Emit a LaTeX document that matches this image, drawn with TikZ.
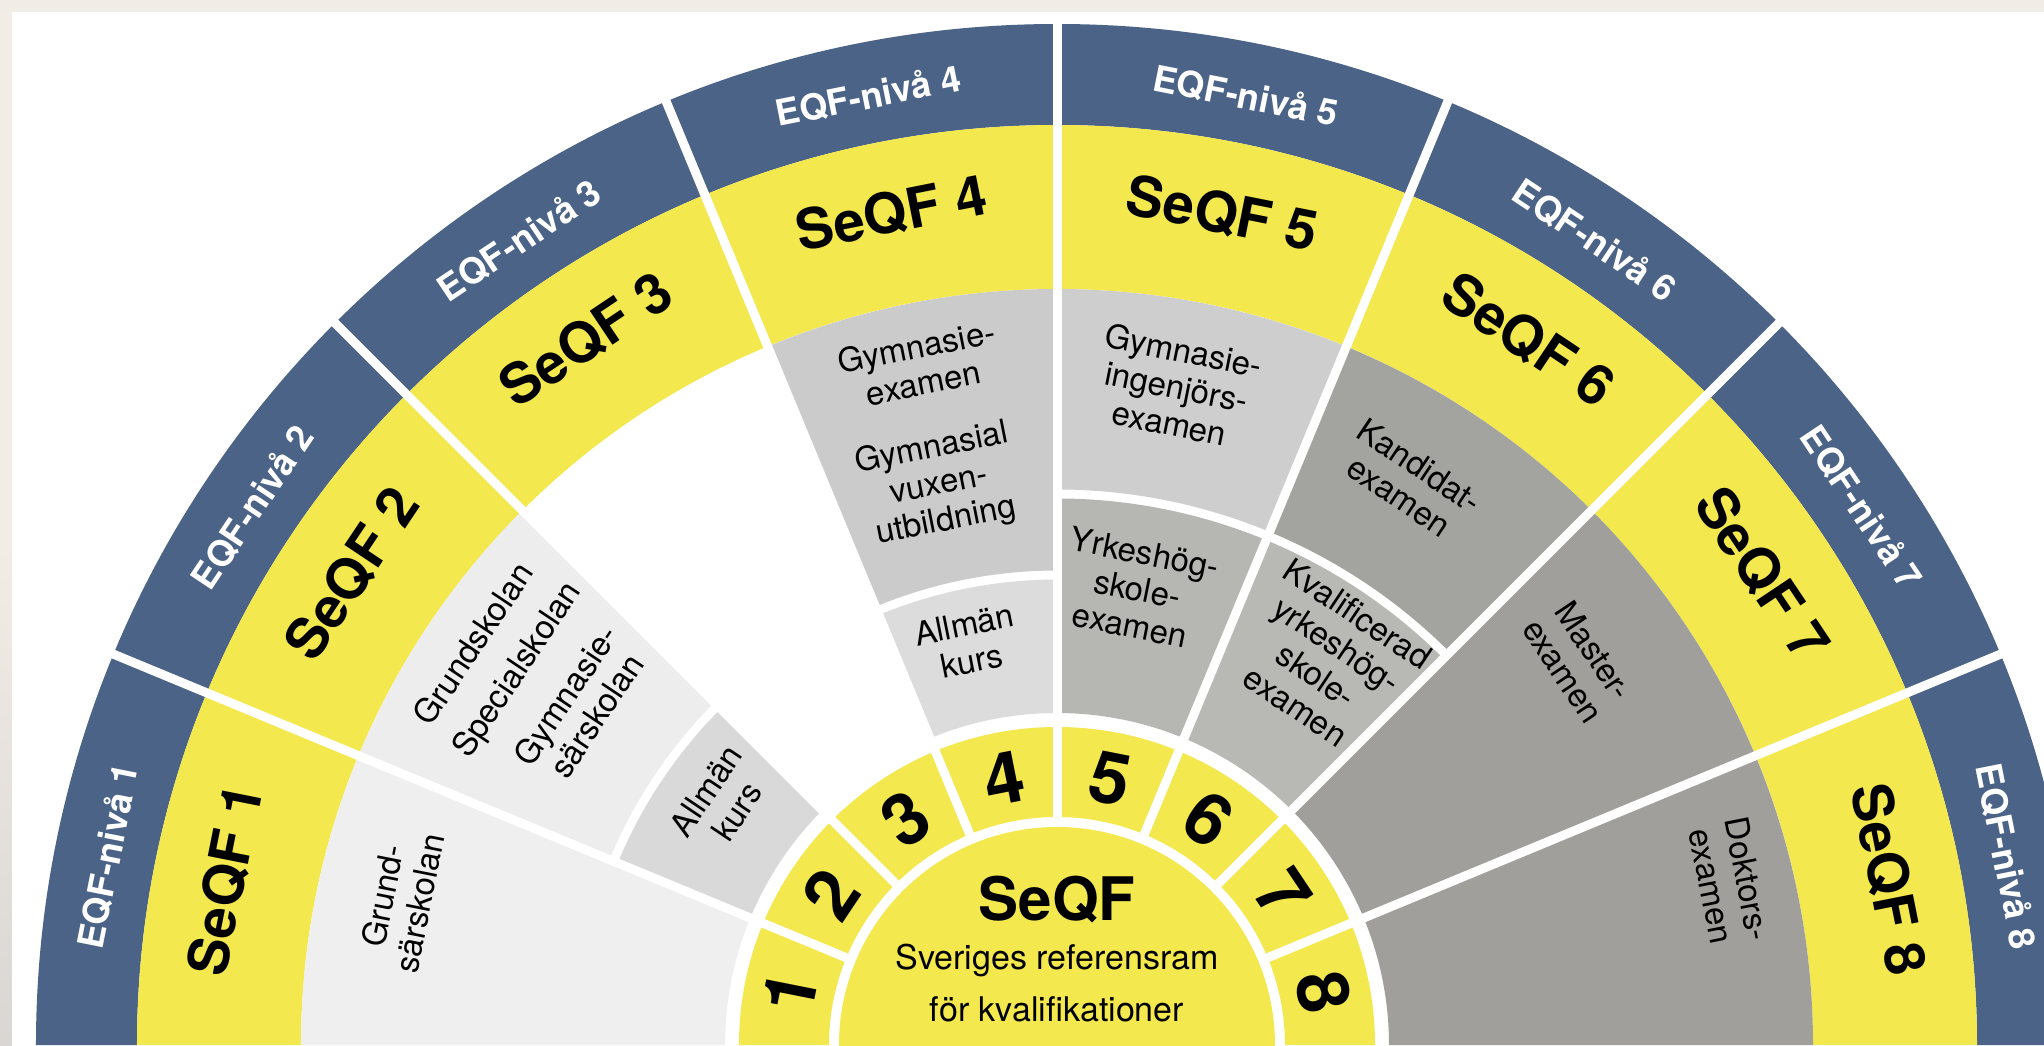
\documentclass[tikz,border=0pt]{standalone}
\usepackage{fontspec}
\setmainfont{TeX Gyre Heros}
\definecolor{eqfblue}{HTML}{4B6386}
\definecolor{seqfyel}{HTML}{F4E84F}
\definecolor{bgbeige}{HTML}{F2ECE6}
\definecolor{bgshade}{HTML}{D9D6D3}
\definecolor{cA}{HTML}{EFEFEF}
\definecolor{cB}{HTML}{EDEDED}
\definecolor{cBi}{HTML}{D9D9D9}
\definecolor{cD}{HTML}{CBCBCB}
\definecolor{cDi}{HTML}{DCDCDC}
\definecolor{cE}{HTML}{CECECE}
\definecolor{cEi}{HTML}{B6B6B3}
\definecolor{cF}{HTML}{A3A39F}
\definecolor{cFi}{HTML}{B8B8B5}
\definecolor{cG}{HTML}{A09F9B}
\newcommand\annsec[5]{\fill[#5] (#1:#3) arc[start angle=#1,end angle=#2,radius=#3] -- (#2:#4) arc[start angle=#2,end angle=#1,radius=#4] -- cycle;}
\begin{document}
\begin{tikzpicture}[x=0.5pt,y=0.5pt,
  eqf/.style={text=white,inner sep=0pt,font=\fontsize{18}{21}\selectfont\bfseries},
  seqf/.style={text=black,inner sep=0pt,font=\fontsize{28}{31}\selectfont\bfseries},
  num/.style={text=black,inner sep=0pt,font=\fontsize{36}{38}\selectfont\bfseries},
  cont/.style={text=black,align=center,inner sep=0pt,font=\fontsize{16.5}{18.5}\selectfont},
  sepline/.style={white,line width=4.5pt}]
\useasboundingbox (-1057,0) rectangle (987,1045);
\fill[bgbeige] (-1057,0) rectangle (987,1045);
\shade[top color=bgbeige,bottom color=bgshade] (-1057,0) rectangle (-1045,500);
\fill[white] (-1045,0) rectangle (987,1033);
\begin{scope}
\clip (-1045,0) rectangle (987,1033);
% outer bands
\annsec{0}{180}{920}{1021}{eqfblue}
\annsec{0}{180}{756}{920}{seqfyel}
% content
\annsec{157.5}{180}{332}{756}{cA}
\annsec{135}{157.5}{484.5}{756}{cB}
\annsec{135}{157.5}{332}{475.5}{cBi}
\annsec{90}{112.5}{474.5}{756}{cD}
\annsec{90}{112.5}{332}{465.5}{cDi}
\annsec{67.5}{90}{555.5}{756}{cE}
\annsec{67.5}{90}{332}{546.5}{cEi}
\annsec{45}{67.5}{555.5}{756}{cF}
\annsec{45}{67.5}{332}{546.5}{cFi}
\annsec{0}{45}{332}{756}{cG}
% number ring and disc
\annsec{0}{180}{228}{318}{seqfyel}
\fill[seqfyel] (0,0) circle[radius=218];
% radial separators
\foreach \a in {22.5,45,67.5,90,112.5,135,157.5}
  \draw[sepline] (\a:228) -- (\a:1030);
% labels
\foreach \k/\t in {1/168.75,2/146.25,3/123.75,4/101.25,5/78.75,6/56.25,7/33.75,8/11.25}{
  \pgfmathsetmacro\rot{\t-90}
  \node[eqf,rotate=\rot] (eqf\k) at (\t:968) {EQF-nivå \k};
  \node[seqf,rotate=\rot] (seqf\k) at (\t:848) {SeQF \k};
  \node[num,rotate=\rot] (num\k) at (\t:272) {\k};
}
\node[font=\fontsize{30}{33}\selectfont\bfseries] (title) at (0,145) {SeQF};
\node[font=\fontsize{17}{20}\selectfont] (sub1) at (0,84) {Sveriges referensram};
\node[font=\fontsize{17}{20}\selectfont] (sub2) at (0,36) {för kvalifikationer};
% content texts
\node[cont,rotate=78.75] (t1) at (167.5:672) {Grund-\\särskolan};
\node[cont,rotate=56.25] (t2a) at (145.5:709) {Grundskolan};
\node[cont,rotate=56.25] (t2b) at (145.2:656) {Specialskolan};
\node[cont,rotate=56.25] (t2c) at (144.5:585) {Gymnasie-\\särskolan};
\node[cont,rotate=56.25] (t2d) at (144:415) {Allmän\\kurs};
\node[cont,rotate=11.25] (t4a) at (101.4:694) {Gymnasie-\\examen};
\node[cont,rotate=11.25] (t4b) at (101.9:572) {Gymnasial\\vuxen-\\utbildning};
\node[cont,rotate=11.25] (t4c) at (102.5:412) {Allmän\\kurs};
\node[cont,rotate=-11.25] (t5a) at (79.7:669) {Gymnasie-\\ingenjörs-\\examen};
\node[cont,rotate=-11.25] (t5b) at (80:463) {Yrkeshög-\\skole-\\examen};
\node[cont,rotate=-33.75] (t6a) at (58:665) {Kandidat-\\examen};
\node[cont,rotate=-33.75] (t6b) at (55:470) {Kvalificerad\\yrkeshög-\\skole-\\examen};
\node[cont,rotate=-56.25] (t7) at (36.4:648) {Master-\\examen};
\node[cont,rotate=-78.75] (t8) at (13.6:692) {Doktors-\\examen};
\end{scope}
\end{tikzpicture}
\end{document}
